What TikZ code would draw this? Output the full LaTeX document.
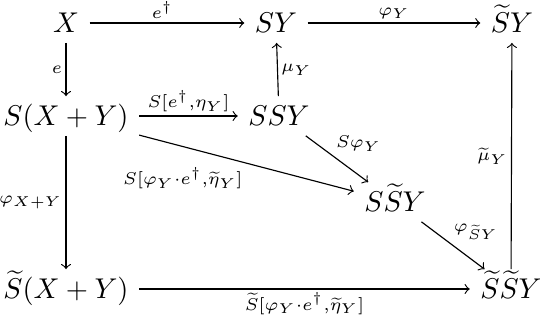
\documentclass[tikz,border=0pt]{standalone}
\usepackage{amsmath}
\begin{document}
\begin{tikzpicture}[x=0.35pt,y=-0.35pt,
  obj/.style={inner xsep=3.5pt, inner ysep=1pt, text height=9pt, text depth=2.5pt},
  lab/.style={inner sep=1.2pt, font=\footnotesize},
  arr/.style={->, line width=0.4pt}]
\useasboundingbox (0,0) rectangle (540,323);
\node[obj] (X) at (66,23) {$X$};
\node[obj] (SY) at (276,23) {$SY$};
\node[obj] (tSY) at (512,23) {$\widetilde{S}Y$};
\node[obj] (SXY) at (66,116) {$S(X+Y)$};
\node[obj] (SSY) at (279,116) {$SSY$};
\node[obj] (StSY) at (395,202) {$S\widetilde{S}Y$};
\node[obj] (tSXY) at (66,289) {$\widetilde{S}(X+Y)$};
\node[obj] (tStSY) at (511,289) {$\widetilde{S}\widetilde{S}Y$};

\draw[arr] (X) -- node[lab,above,pos=0.47]{$\scriptstyle e^\dagger$} (SY);
\draw[arr] (SY) -- node[lab,above]{$\scriptstyle \varphi_Y$} (tSY);
\draw[arr] (X) -- node[lab,left]{$\scriptstyle e$} (SXY);
\draw[arr] (SXY) -- node[lab,above]{$\scriptstyle S[e^\dagger,\eta_Y]$} (SSY);
\draw[arr] (SSY) -- node[lab,right]{$\scriptstyle \mu_Y$} (SY);
\draw[arr] (SSY) -- node[lab,above right,pos=0.42]{$\scriptstyle S\varphi_Y$} (StSY);
\draw[arr] (SXY) -- node[lab,below left,pos=0.5]{$\scriptstyle S[\varphi_Y\cdot e^\dagger,\widetilde{\eta}_Y]$} (StSY);
\draw[arr] (SXY) -- node[lab,left]{$\scriptstyle \varphi_{X+Y}$} (tSXY);
\draw[arr] (StSY) -- node[lab,above right,pos=0.45]{$\scriptstyle \varphi_{\widetilde{S}Y}$} (tStSY);
\draw[arr] (tSXY) -- node[lab,below]{$\scriptstyle \widetilde{S}[\varphi_Y\cdot e^\dagger,\widetilde{\eta}_Y]$} (tStSY);
\draw[arr] (tStSY) -- node[lab,left]{$\scriptstyle \widetilde{\mu}_Y$} (tSY);
\end{tikzpicture}
\end{document}
